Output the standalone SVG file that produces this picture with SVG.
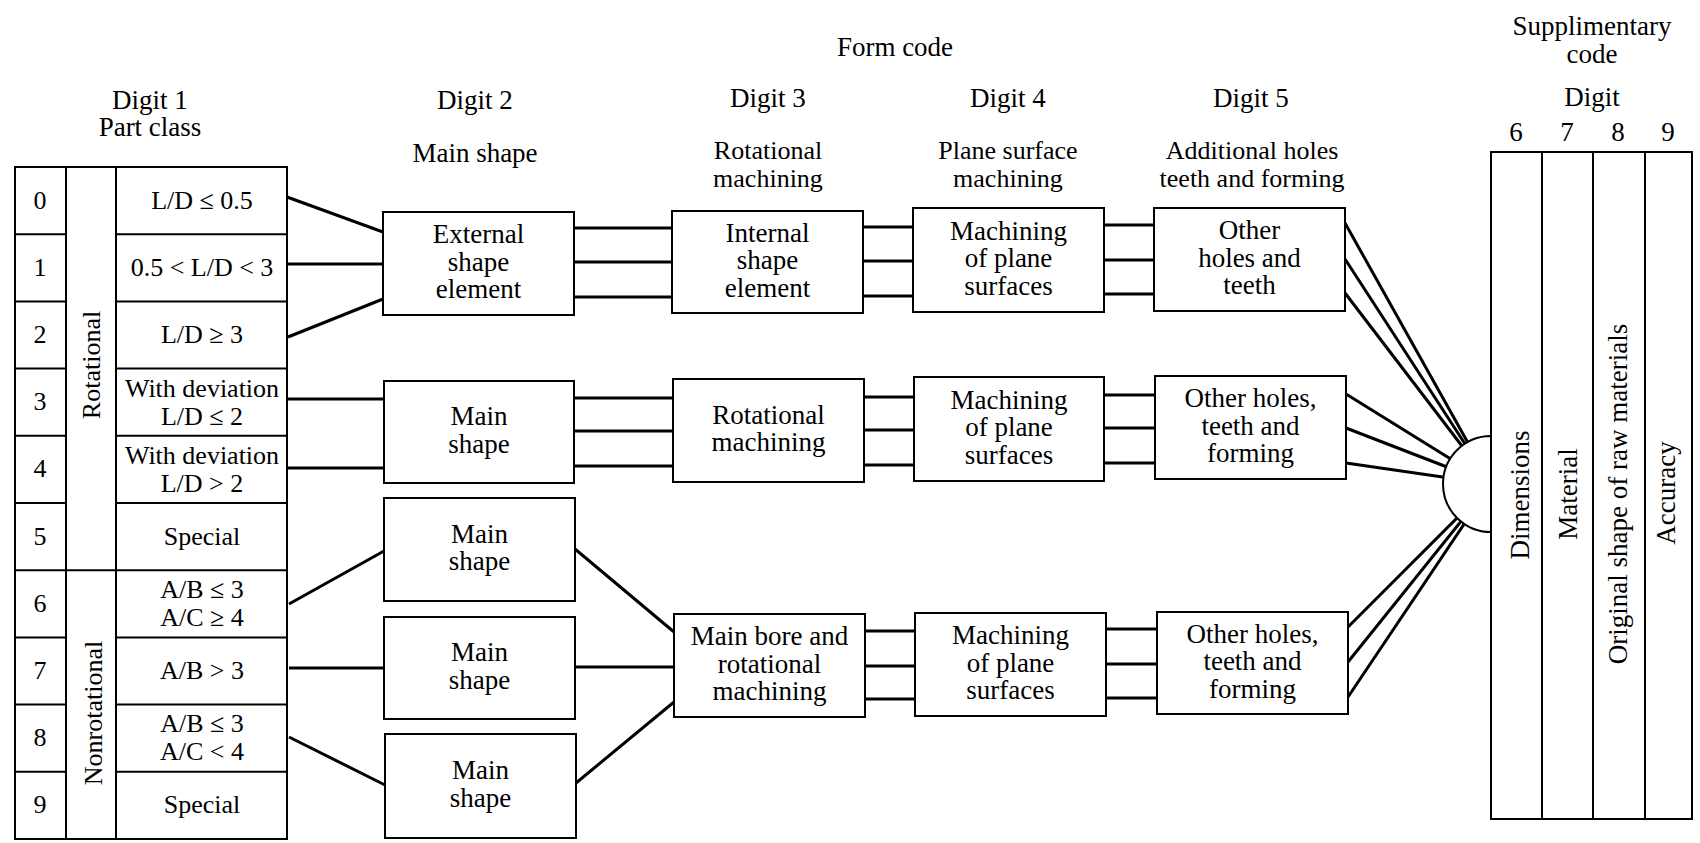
<svg xmlns="http://www.w3.org/2000/svg" width="1700" height="843" viewBox="0 0 1700 843" font-family="Liberation Serif, Times New Roman, DejaVu Serif, serif">
<style>
.box{fill:#fff;stroke:#000;stroke-width:2}
.ln{stroke:#000;stroke-width:2;fill:none}
.conn line{stroke:#000;stroke-width:3}
text{font-size:27px;fill:#000;text-anchor:middle}
.tb{font-size:26px}
.hd{font-size:26px}
</style>
<rect width="1700" height="843" fill="#fff"/>

<g id="headers" font-family="Liberation Serif, serif">
<text x="895" y="56">Form code</text>
<text x="150" y="109">Digit 1</text>
<text x="150" y="136">Part class</text>
<text x="475" y="109">Digit 2</text>
<text x="475" y="162">Main shape</text>
<text x="768" y="107">Digit 3</text>
<text class="hd" x="768" y="159">Rotational</text>
<text class="hd" x="768" y="187">machining</text>
<text x="1008" y="107">Digit 4</text>
<text class="hd" x="1008" y="159">Plane surface</text>
<text class="hd" x="1008" y="187">machining</text>
<text x="1251" y="107">Digit 5</text>
<text class="hd" x="1252" y="159">Additional holes</text>
<text class="hd" x="1252" y="187">teeth and forming</text>
<text x="1592" y="35">Supplimentary</text>
<text x="1592" y="63">code</text>
<text x="1592" y="106">Digit</text>
<text x="1516" y="141">6</text>
<text x="1567" y="141">7</text>
<text x="1618" y="141">8</text>
<text x="1668" y="141">9</text>
</g>

<g id="part-class" font-family="Liberation Serif, serif">
<rect class="box" x="15" y="167" width="272" height="672"/>
<line class="ln" x1="66" y1="167" x2="66" y2="839"/>
<line class="ln" x1="116" y1="167" x2="116" y2="839"/>
<line class="ln" x1="15" y1="234.2" x2="66" y2="234.2"/>
<line class="ln" x1="15" y1="301.4" x2="66" y2="301.4"/>
<line class="ln" x1="15" y1="368.6" x2="66" y2="368.6"/>
<line class="ln" x1="15" y1="435.8" x2="66" y2="435.8"/>
<line class="ln" x1="15" y1="503" x2="66" y2="503"/>
<line class="ln" x1="15" y1="570.2" x2="287" y2="570.2"/>
<line class="ln" x1="15" y1="637.4" x2="66" y2="637.4"/>
<line class="ln" x1="15" y1="704.6" x2="66" y2="704.6"/>
<line class="ln" x1="15" y1="771.8" x2="66" y2="771.8"/>
<line class="ln" x1="116" y1="234.2" x2="287" y2="234.2"/>
<line class="ln" x1="116" y1="301.4" x2="287" y2="301.4"/>
<line class="ln" x1="116" y1="368.6" x2="287" y2="368.6"/>
<line class="ln" x1="116" y1="435.8" x2="287" y2="435.8"/>
<line class="ln" x1="116" y1="503" x2="287" y2="503"/>
<line class="ln" x1="116" y1="637.4" x2="287" y2="637.4"/>
<line class="ln" x1="116" y1="704.6" x2="287" y2="704.6"/>
<line class="ln" x1="116" y1="771.8" x2="287" y2="771.8"/>
<text class="tb" x="40" y="209">0</text>
<text class="tb" x="40" y="276">1</text>
<text class="tb" x="40" y="343">2</text>
<text class="tb" x="40" y="410">3</text>
<text class="tb" x="40" y="477">4</text>
<text class="tb" x="40" y="545">5</text>
<text class="tb" x="40" y="612">6</text>
<text class="tb" x="40" y="679">7</text>
<text class="tb" x="40" y="746">8</text>
<text class="tb" x="40" y="813">9</text>
<text class="tb" transform="translate(100,365) rotate(-90)">Rotational</text>
<text class="tb" transform="translate(102,713) rotate(-90)">Nonrotational</text>
<text class="tb" x="202" y="209">L/D ≤ 0.5</text>
<text class="tb" x="202" y="276">0.5 &lt; L/D &lt; 3</text>
<text class="tb" x="202" y="343">L/D ≥ 3</text>
<text class="tb" x="202" y="397">With deviation</text>
<text class="tb" x="202" y="425">L/D ≤ 2</text>
<text class="tb" x="202" y="464">With deviation</text>
<text class="tb" x="202" y="492">L/D &gt; 2</text>
<text class="tb" x="202" y="545">Special</text>
<text class="tb" x="202" y="598">A/B ≤ 3</text>
<text class="tb" x="202" y="626">A/C ≥ 4</text>
<text class="tb" x="202" y="679">A/B &gt; 3</text>
<text class="tb" x="202" y="732">A/B ≤ 3</text>
<text class="tb" x="202" y="760">A/C &lt; 4</text>
<text class="tb" x="202" y="813">Special</text>
</g>

<g id="d2-external" font-family="Liberation Serif, serif">
<rect class="box" x="383" y="212" width="191" height="103"/>
<text x="478.5" y="243">External</text><text x="478.5" y="270.5">shape</text><text x="478.5" y="298">element</text>
</g>
<g id="d3-internal" font-family="Liberation Serif, serif">
<rect class="box" x="672" y="211" width="191" height="102"/>
<text x="767.5" y="241.5">Internal</text><text x="767.5" y="269">shape</text><text x="767.5" y="296.5">element</text>
</g>
<g id="d4-top" font-family="Liberation Serif, serif">
<rect class="box" x="913" y="208" width="191" height="104"/>
<text x="1008.5" y="239.5">Machining</text><text x="1008.5" y="267">of plane</text><text x="1008.5" y="294.5">surfaces</text>
</g>
<g id="d5-top" font-family="Liberation Serif, serif">
<rect class="box" x="1154" y="208" width="191" height="103"/>
<text x="1249.5" y="239">Other</text><text x="1249.5" y="266.5">holes and</text><text x="1249.5" y="294">teeth</text>
</g>

<g id="d2-main-mid" font-family="Liberation Serif, serif">
<rect class="box" x="384" y="381" width="190" height="102"/>
<text x="479" y="425">Main</text><text x="479" y="452.5">shape</text>
</g>
<g id="d3-rot" font-family="Liberation Serif, serif">
<rect class="box" x="673" y="379" width="191" height="103"/>
<text x="768.5" y="423.5">Rotational</text><text x="768.5" y="451">machining</text>
</g>
<g id="d4-mid" font-family="Liberation Serif, serif">
<rect class="box" x="914" y="377" width="190" height="104"/>
<text x="1009" y="408.5">Machining</text><text x="1009" y="436">of plane</text><text x="1009" y="463.5">surfaces</text>
</g>
<g id="d5-mid" font-family="Liberation Serif, serif">
<rect class="box" x="1155" y="376" width="191" height="103"/>
<text x="1250.5" y="407">Other holes,</text><text x="1250.5" y="434.5">teeth and</text><text x="1250.5" y="462">forming</text>
</g>

<g id="d2-main-6" font-family="Liberation Serif, serif">
<rect class="box" x="384" y="498" width="191" height="103"/>
<text x="479.5" y="542.5">Main</text><text x="479.5" y="570">shape</text>
</g>
<g id="d2-main-7" font-family="Liberation Serif, serif">
<rect class="box" x="384" y="617" width="191" height="102"/>
<text x="479.5" y="661">Main</text><text x="479.5" y="688.5">shape</text>
</g>
<g id="d2-main-8" font-family="Liberation Serif, serif">
<rect class="box" x="385" y="734" width="191" height="104"/>
<text x="480.5" y="779">Main</text><text x="480.5" y="806.5">shape</text>
</g>
<g id="d3-bore" font-family="Liberation Serif, serif">
<rect class="box" x="674" y="614" width="191" height="103"/>
<text x="769.5" y="645">Main bore and</text><text x="769.5" y="672.5">rotational</text><text x="769.5" y="700">machining</text>
</g>
<g id="d4-bot" font-family="Liberation Serif, serif">
<rect class="box" x="915" y="613" width="191" height="103"/>
<text x="1010.5" y="644">Machining</text><text x="1010.5" y="671.5">of plane</text><text x="1010.5" y="699">surfaces</text>
</g>
<g id="d5-bot" font-family="Liberation Serif, serif">
<rect class="box" x="1157" y="612" width="191" height="102"/>
<text x="1252.5" y="642.5">Other holes,</text><text x="1252.5" y="670">teeth and</text><text x="1252.5" y="697.5">forming</text>
</g>

<g id="connectors" class="conn">
<line x1="287" y1="197" x2="383" y2="232"/>
<line x1="287" y1="264" x2="383" y2="264"/>
<line x1="288" y1="337" x2="383" y2="299"/>
<line x1="287" y1="399" x2="384" y2="399"/>
<line x1="287" y1="468" x2="384" y2="468"/>
<line x1="289" y1="604" x2="384" y2="551"/>
<line x1="289" y1="668" x2="384" y2="668"/>
<line x1="289" y1="737" x2="385" y2="785"/>

<line x1="574" y1="228" x2="672" y2="228"/>
<line x1="574" y1="262" x2="672" y2="262"/>
<line x1="574" y1="297" x2="672" y2="297"/>
<line x1="574" y1="398" x2="673" y2="398"/>
<line x1="574" y1="431" x2="673" y2="431"/>
<line x1="574" y1="466" x2="673" y2="466"/>
<line x1="575" y1="549" x2="674" y2="632"/>
<line x1="575" y1="667" x2="674" y2="667"/>
<line x1="576" y1="783" x2="674" y2="702"/>

<line x1="863" y1="227" x2="913" y2="227"/>
<line x1="863" y1="261" x2="913" y2="261"/>
<line x1="863" y1="296" x2="913" y2="296"/>
<line x1="864" y1="397" x2="914" y2="397"/>
<line x1="864" y1="430" x2="914" y2="430"/>
<line x1="864" y1="465" x2="914" y2="465"/>
<line x1="865" y1="631" x2="915" y2="631"/>
<line x1="865" y1="666" x2="915" y2="666"/>
<line x1="865" y1="699" x2="915" y2="699"/>

<line x1="1104" y1="225" x2="1154" y2="225"/>
<line x1="1104" y1="260" x2="1154" y2="260"/>
<line x1="1104" y1="294" x2="1154" y2="294"/>
<line x1="1104" y1="395" x2="1155" y2="395"/>
<line x1="1104" y1="428" x2="1155" y2="428"/>
<line x1="1104" y1="463" x2="1155" y2="463"/>
<line x1="1106" y1="629" x2="1157" y2="629"/>
<line x1="1106" y1="664" x2="1157" y2="664"/>
<line x1="1106" y1="698" x2="1157" y2="698"/>

<line x1="1345" y1="223" x2="1491" y2="484"/>
<line x1="1345" y1="259" x2="1491" y2="484"/>
<line x1="1345" y1="293" x2="1491" y2="484"/>
<line x1="1346" y1="394" x2="1491" y2="484"/>
<line x1="1346" y1="428" x2="1491" y2="484"/>
<line x1="1346" y1="463" x2="1491" y2="484"/>
<line x1="1348" y1="627" x2="1491" y2="484"/>
<line x1="1348" y1="662" x2="1491" y2="484"/>
<line x1="1348" y1="697" x2="1491" y2="484"/>
</g>

<g id="supplementary" font-family="Liberation Serif, serif">
<path class="box" d="M1491,436 A48,48 0 0 0 1491,532 Z"/>
<rect class="box" x="1491" y="152" width="201" height="667"/>
<line class="ln" x1="1542" y1="152" x2="1542" y2="819"/>
<line class="ln" x1="1593" y1="152" x2="1593" y2="819"/>
<line class="ln" x1="1645" y1="152" x2="1645" y2="819"/>
<text transform="translate(1529,495) rotate(-90)">Dimensions</text>
<text transform="translate(1577,494) rotate(-90)">Material</text>
<text transform="translate(1627,494) rotate(-90)">Original shape of raw materials</text>
<text transform="translate(1675,493) rotate(-90)">Accuracy</text>
</g>
</svg>
